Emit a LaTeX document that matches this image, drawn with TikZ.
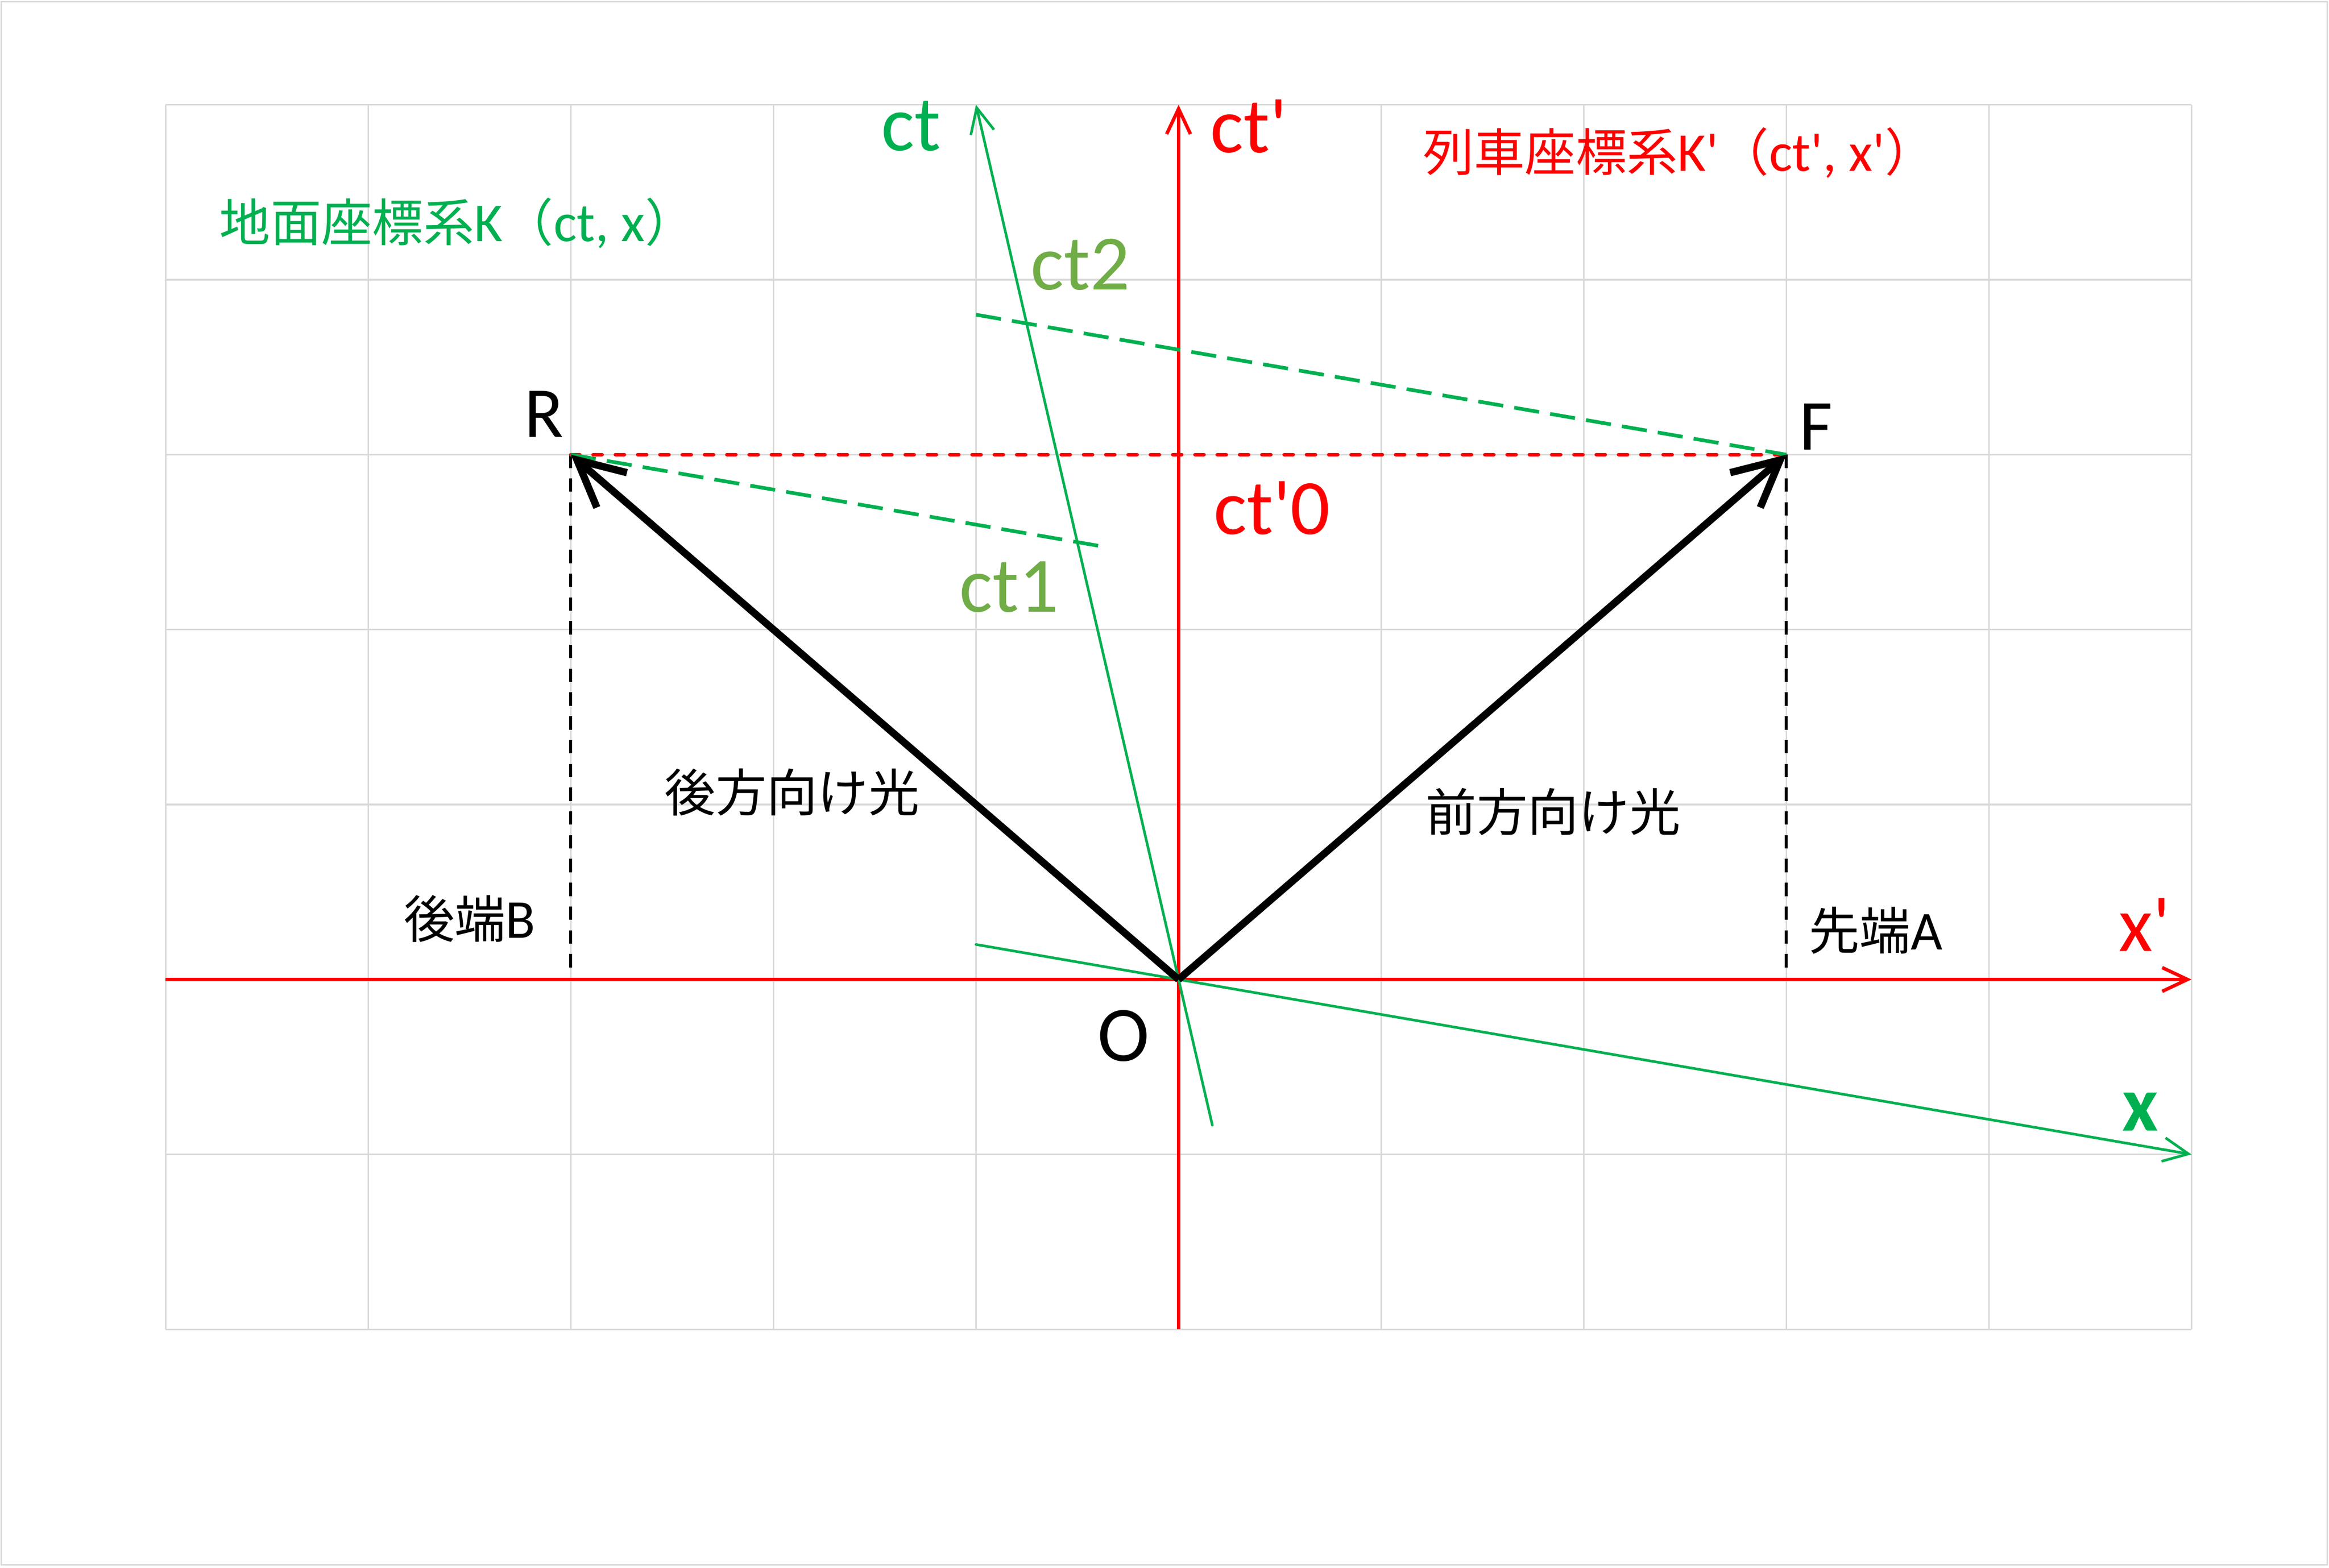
\documentclass[tikz,border=0pt]{standalone}
\usepackage{fontspec}
\setmainfont{Carlito}[Ligatures=TeXOff]
\newfontfamily\jpfont{Noto Sans CJK JP}
\newcommand\jp[1]{{\jpfont\fontsize{19.5}{23}\selectfont #1}}
\usetikzlibrary{arrows.meta}
\definecolor{kgreen}{HTML}{00B050}
\definecolor{kred}{HTML}{FF0000}
\definecolor{tgreen}{HTML}{70AD47}
\definecolor{gridgray}{HTML}{D9D9D9}

\begin{document}
\begin{tikzpicture}[x=2.726cm, y=2.354cm,
    every node/.style={inner sep=0pt},
    gridline/.style={draw=gridgray, line width=0.6pt},
    redaxis/.style={kred, line width=1.3pt, -{Straight Barb[length=0.34cm, width=0.32cm]}},
    greenaxis/.style={kgreen, line width=1pt, line cap=round, -{Straight Barb[length=0.34cm, width=0.32cm]}},
    light/.style={line width=2.8pt, -{Straight Barb[length=0.62cm, width=0.62cm]}},
    simline/.style={kgreen, line width=1.4pt, dash pattern=on 0.34cm off 0.15cm},
    nowline/.style={kred, line width=1.4pt, line cap=round, dash pattern=on 0.12cm off 0.18cm},
    footline/.style={black, line width=1.1pt, dash pattern=on 0.18cm off 0.14cm},
    biglabel/.style={font=\fontsize{30}{36}\selectfont},
    ptlabel/.style={font=\fontsize{27.5}{33}\selectfont},
    jplabel/.style={font=\fontsize{21}{25}\selectfont}
  ]
    \useasboundingbox (-5.818,-3.364) rectangle (5.679,5.599);
    \draw[gridline] (-5.811,-3.347) rectangle (5.671,5.59);

    % Grid
    \foreach \i in {-5,...,5}
      \draw[gridline] (\i,-2) -- (\i,5);
    \foreach \j in {-2,...,5}
      \draw[gridline] (-5,\j) -- (5,\j);

    % Events
    \coordinate (O) at (0,0);
    \coordinate (R) at (-3,3);
    \coordinate (F) at (3,3);
    \coordinate (B) at (-3,0);
    \coordinate (A) at (3,0);
    \coordinate (ct1end) at (-0.37,2.474);
    \coordinate (ct2start) at (-1,3.8);

    % Axes
    \coordinate (xp_start) at (-5,0);
    \coordinate (xp_end) at (5,0);
    \coordinate (ctp_start) at (0,-2);
    \coordinate (ctp_end) at (0,5);
    \coordinate (x_start) at (-1,0.2);
    \coordinate (x_end) at (5,-1);
    \coordinate (ct_start) at (0.1667,-0.833);
    \coordinate (ct_end) at (-1,5);

    % Train ends
    \draw[footline] (R) -- (B);
    \draw[footline] (F) -- (A);

    \draw[redaxis] (xp_start) -- (xp_end);
    \draw[redaxis] (ctp_start) -- (ctp_end);

    % Simultaneity lines
    \draw[nowline] (R) -- (F);
    \draw[simline] (ct2start) -- (F);
    \draw[simline] (R) -- (ct1end);

    \draw[greenaxis] (x_start) -- (x_end);
    \draw[greenaxis] (ct_start) -- (ct_end);

    % Light rays
    \draw[light] (O) -- (R);
    \draw[light] (O) -- (F);

    % Labels
    \node (ct_label) [biglabel, text=kgreen] at (-1.32,4.877) {ct};
    \node (ctp_label) [biglabel, text=kred, anchor=west] at (0.155,4.877) {ct'};
    \node (k_label) [jplabel, text=kgreen] at (-3.558,4.324) {\jp{地面座標系}K\jp{（}ct, x\jp{）}};
    \node (kp_label) [jplabel, text=kred] at (2.472,4.724) {\jp{列車座標系}K'\jp{（}ct', x'\jp{）}};
    \node (ct2_label) [biglabel, text=tgreen] at (-0.484,4.087) {ct2};
    \node (ct1_label) [biglabel, text=tgreen] at (-0.836,2.243) {ct1};
    \node (ctp0_label) [biglabel, text=kred] at (0.462,2.693) {ct'0};
    \node (R_label) [ptlabel] at (-3.133,3.233) {R};
    \node (F_label) [ptlabel] at (3.147,3.16) {F};
    \node (O_label) [biglabel] at (-0.271,-0.323) {O};
    \node (back_label) [jplabel] at (-1.908,1.07) {\jp{後方向け光}};
    \node (front_label) [jplabel] at (1.849,0.96) {\jp{前方向け光}};
    \node (B_label) [jplabel] at (-3.5,0.348) {\jp{後端}B};
    \node (A_label) [jplabel] at (3.441,0.28) {\jp{先端}A};
    \node (xp_label) [biglabel, text=kred] at (4.769,0.314) {x'};
    \node (x_label) [biglabel, text=kgreen, font=\fontsize{30}{36}\selectfont\bfseries] at (4.747,-0.756) {x};
\end{tikzpicture}
\end{document}
